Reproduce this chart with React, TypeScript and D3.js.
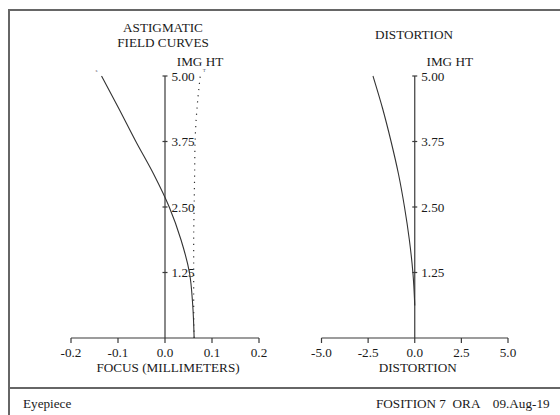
import React from "react";
import * as d3 from "d3";

const W = 560;
const H = 415;

// Astigmatic field curves (image height vs focus, mm)
const fieldHeights = [0, 0.625, 1.25, 1.875, 2.5, 3.125, 3.75, 4.375, 5.0];
const sagittalFocus = [0.062, 0.059, 0.052, 0.034, 0.009, -0.024, -0.062, -0.098, -0.135];
const tangentialFocus = [0.062, 0.061, 0.061, 0.061, 0.062, 0.063, 0.064, 0.068, 0.075];

// Distortion (%)
const distHeights = [0.62, 1.0, 1.25, 1.875, 2.5, 3.125, 3.75, 4.375, 5.0];
const distortion = [0.0, -0.05, -0.1, -0.29, -0.55, -0.87, -1.27, -1.72, -2.24];

const imgTicks = [1.25, 2.5, 3.75, 5.0];
const focusTicks = [-0.2, -0.1, 0.0, 0.1, 0.2];
const distTicks = [-5.0, -2.5, 0.0, 2.5, 5.0];

const FONT = "Liberation Serif";
const INK = "#1a1a1a";
const AXIS = "#3a3a3a";
const FS = 13.2;

export default function App() {
  const yScale = d3.scaleLinear().domain([0, 5]).range([338, 76]);
  const xFocus = d3.scaleLinear().domain([-0.2, 0.2]).range([71, 259]);
  const xDist = d3.scaleLinear().domain([-5, 5]).range([321.5, 508]);

  const sagLine = d3
    .line<number>()
    .x((_, i) => xFocus(sagittalFocus[i]))
    .y((h) => yScale(h))
    .curve(d3.curveMonotoneY)(fieldHeights);
  const tanLine = d3
    .line<number>()
    .x((_, i) => xFocus(tangentialFocus[i]))
    .y((h) => yScale(h))
    .curve(d3.curveMonotoneY)(fieldHeights);
  const distLine = d3
    .line<number>()
    .x((_, i) => xDist(distortion[i]))
    .y((h) => yScale(h))
    .curve(d3.curveMonotoneY)(distHeights);

  const axisY = 338;

  const renderPanel = (
    xs: d3.ScaleLinear<number, number>,
    ticks: number[],
    fmt: (v: number) => string,
    title: string
  ) => {
    const x0 = xs(0);
    return (
      <g>
        <line x1={xs(ticks[0])} x2={xs(ticks[ticks.length - 1])} y1={axisY} y2={axisY} stroke={AXIS} strokeWidth={1.2} />
        {ticks.map((t) => (
          <g key={t}>
            <line x1={xs(t)} x2={xs(t)} y1={axisY} y2={axisY + 5} stroke={AXIS} strokeWidth={1.2} />
            <text x={xs(t)} y={356.5} textAnchor="middle" fontSize={FS} fontFamily={FONT} fill={INK}>
              {fmt(t)}
            </text>
          </g>
        ))}
        <line x1={x0} x2={x0} y1={axisY} y2={yScale(5)} stroke={AXIS} strokeWidth={1.2} />
        {imgTicks.map((t) => (
          <g key={t}>
            <line x1={x0 - 2.5} x2={x0 + 2.5} y1={yScale(t)} y2={yScale(t)} stroke={AXIS} strokeWidth={1.2} />
            <text x={x0 + 6.5} y={yScale(t) + 4.7} fontSize={FS} fontFamily={FONT} fill={INK}>
              {t.toFixed(2)}
            </text>
          </g>
        ))}
        <text x={x0 + 35} y={66} textAnchor="middle" fontSize={FS} fontFamily={FONT} fill={INK}>
          IMG HT
        </text>
        <text x={x0 + 3} y={372} textAnchor="middle" fontSize={FS} fontFamily={FONT} fill={INK}>
          {title}
        </text>
      </g>
    );
  };

  return (
    <svg width={W} height={H} style={{ position: "absolute", left: 0, top: 0 }}>
      <rect x={0} y={0} width={W} height={H} fill="#fff" />
      {/* frame */}
      <path d={`M9,${H + 5} L9,10 L${W + 5},10`} fill="none" stroke="#666" strokeWidth={2} />
      <line x1={9} x2={W} y1={388} y2={388} stroke="#666" strokeWidth={2} />

      {/* titles */}
      <text x={163} y={32} textAnchor="middle" fontSize={FS} fontFamily={FONT} fill={INK}>
        ASTIGMATIC
      </text>
      <text x={163} y={47} textAnchor="middle" fontSize={FS} fontFamily={FONT} fill={INK}>
        FIELD CURVES
      </text>
      <text x={414} y={38.5} textAnchor="middle" fontSize={FS} fontFamily={FONT} fill={INK}>
        DISTORTION
      </text>

      {renderPanel(xFocus, focusTicks, (v) => v.toFixed(1), "FOCUS (MILLIMETERS)")}
      {renderPanel(xDist, distTicks, (v) => v.toFixed(1), "DISTORTION")}

      {/* curves */}
      <path d={sagLine ?? ""} fill="none" stroke="#333" strokeWidth={1.1} />
      <path d={tanLine ?? ""} fill="none" stroke="#333" strokeWidth={1.2} strokeDasharray="1.2 5" />
      <path d={distLine ?? ""} fill="none" stroke="#333" strokeWidth={1.1} />

      {/* curve markers */}
      <text x={xFocus(sagittalFocus[8]) - 5} y={yScale(5) - 4} textAnchor="middle" fontSize={5} fontFamily={FONT} fill="#556">
        s
      </text>
      <text x={xFocus(tangentialFocus[8]) + 4} y={yScale(5) - 4} textAnchor="middle" fontSize={5} fontFamily={FONT} fill="#556">
        T
      </text>

      {/* footer */}
      <text x={23} y={408} fontSize={FS} fontFamily={FONT} fill={INK}>
        Eyepiece
      </text>
      <text x={376} y={408} fontSize={FS} fontFamily={FONT} fill={INK} xmlSpace="preserve">
        {"FOSITION 7  ORA    09.Aug-19"}
      </text>
    </svg>
  );
}
